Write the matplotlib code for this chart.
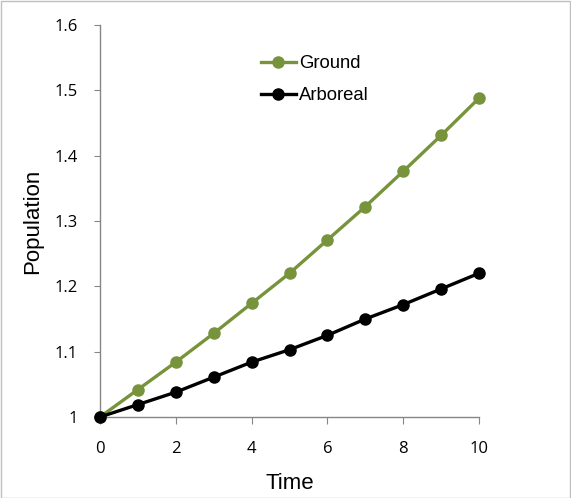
import matplotlib.pyplot as plt
from matplotlib.patches import Rectangle

time = [0, 1, 2, 3, 4, 5, 6, 7, 8, 9, 10]
ground = [1.0, 1.042, 1.084, 1.128, 1.174, 1.220, 1.271, 1.322, 1.376, 1.431, 1.488]
arboreal = [1.0, 1.019, 1.038, 1.061, 1.084, 1.103, 1.125, 1.150, 1.172, 1.196, 1.220]

x_ticks = [0, 2, 4, 6, 8, 10]
y_ticks = [1.0, 1.1, 1.2, 1.3, 1.4, 1.5, 1.6]
y_labels = ["1", "1.1", "1.2", "1.3", "1.4", "1.5", "1.6"]

green = "#77933C"
axis_grey = "#868686"

fig = plt.figure(figsize=(5.71, 4.98), dpi=100)
ax = fig.add_axes([100 / 571, 1 - 417 / 498, 379 / 571, 392 / 498])

ax.plot(time, ground, color=green, lw=2.4, marker="o", ms=8, label="Ground",
        clip_on=False, zorder=3)
ax.plot(time, arboreal, color="black", lw=2.4, marker="o", ms=8, label="Arboreal",
        clip_on=False, zorder=4)

ax.set_xlim(0, 10)
ax.set_ylim(1.0, 1.6)
ax.set_xticks(x_ticks)
ax.set_yticks(y_ticks)
ax.set_yticklabels(y_labels)

for side in ("top", "right"):
    ax.spines[side].set_visible(False)
for side in ("left", "bottom"):
    ax.spines[side].set_color(axis_grey)
    ax.spines[side].set_linewidth(1.0)

ax.tick_params(axis="both", which="both", direction="out", color=axis_grey,
               labelsize=12, labelcolor="black")
ax.tick_params(axis="x", which="major", length=5, pad=12)
ax.tick_params(axis="y", which="major", length=4, pad=12)
for lab in ax.get_xticklabels() + ax.get_yticklabels():
    lab.set_family("Open Sans")

ax.set_xlabel("Time", fontsize=16, family="Liberation Sans", labelpad=12)
ax.set_ylabel("Population", fontsize=16, family="Liberation Sans", labelpad=8)

ax.legend(loc="upper left", bbox_to_anchor=(0.38, 0.965), frameon=False,
          prop={"family": "Liberation Sans", "size": 13.3}, handlelength=1.9,
          handletextpad=0.2, labelspacing=0.8)

fig.patches.append(Rectangle((0.5 / 571, 0.5 / 498), 569 / 571, 496 / 498,
                             transform=fig.transFigure, fill=False,
                             edgecolor="#BFBFBF", lw=1.0))

fig.savefig("out.png", dpi=100)
